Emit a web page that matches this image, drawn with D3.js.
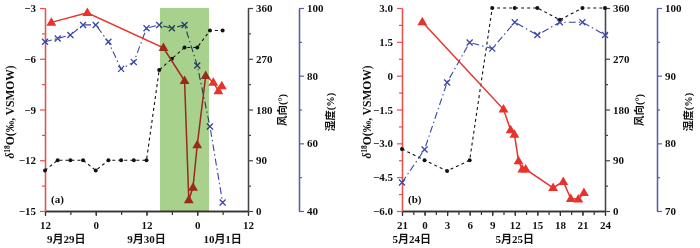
<!DOCTYPE html>
<html>
<head>
<meta charset="utf-8">
<script src="https://cdn.jsdelivr.net/npm/d3@7"></script>
<style>
  body { margin: 0; background: #fff; }
  svg { display: block; }
  text { font-family: "Liberation Serif", "Noto Sans CJK SC", serif; font-weight: bold; fill: #111; }
</style>
</head>
<body>
<script>
// ---- data: panel (a) Sep 29 12:00 .. Oct 1 12:00 (hours from start)
const aHours = [0, 3, 6, 9, 12, 15, 18, 21, 24, 27, 30, 33, 36, 39, 42];
const aWind = [72, 90, 90, 90, 72, 90, 90, 90, 90, 250, 270, 290, 290, 320, 320];
const aHumidity = [90, 91, 92, 95, 95, 90, 82, 84, 94, 95, 94, 95, 83, 65, 42.5];
const aIsoHours = [1.5, 10, 28, 33, 34, 35, 36, 38, 39.8, 41, 41.8];
const aIso = [-3.85, -3.28, -5.35, -7.3, -14.35, -13.6, -11.1, -7.0, -7.4, -7.9, -7.6];
const aShade = [27.2, 38.8];
const aXTicks = [0, 12, 24, 36, 48];
const aXLabels = ['12', '0', '12', '0', '12'];
const aDates = [{ h: 5, label: '9月29日' }, { h: 24, label: '9月30日' }, { h: 42, label: '10月1日' }];
const aIsoTicks = [-15, -12, -9, -6, -3];
const aHumTicks = [40, 60, 80, 100];

// ---- data: panel (b) May 24 21:00 .. May 25 24:00
const bHours = [0, 3, 6, 9, 12, 15, 18, 21, 24, 27];
const bWind = [110, 90, 71, 90, 360, 360, 360, 339, 360, 360];
const bHumidity = [74.2, 79.1, 89, 94.9, 94, 97.9, 96, 97.9, 97.9, 96];
const bIsoHours = [2.7, 13.5, 14.45, 14.95, 15.5, 16.0, 16.45, 20.1, 21.45, 22.45, 23.45, 24.2];
const bIso = [2.38, -1.49, -2.41, -2.6, -3.78, -4.15, -4.15, -4.97, -4.7, -5.45, -5.48, -5.19];
const bXTicks = [0, 3, 6, 9, 12, 15, 18, 21, 24, 27];
const bXLabels = ['21', '0', '3', '6', '9', '12', '15', '18', '21', '24'];
const bDates = [{ h: 1.3, label: '5月24日' }, { h: 15, label: '5月25日' }];
const bIsoTicks = [-6, -4.5, -3, -1.5, 0, 1.5, 3];
const bHumTicks = [70, 80, 90, 100];

const windTicks = [0, 90, 180, 270, 360];

const RED = '#e8332c';
const RED_AXIS = '#e4504a';
const BLUE = '#3a46a8';
const HUM_AXIS = '#5a5ea4';
const GREY = '#444';

const svg = d3.select('body').append('svg').attr('width', 700).attr('height', 248);

const fmtMinus = s => s.replace('-', '\u2212');

function styleAxis(g, color) {
  g.select('.domain').attr('stroke', color).attr('stroke-width', 1.3);
  g.selectAll('.tick line').attr('stroke', color).attr('stroke-width', 1.2);
  g.selectAll('.tick text').style('font-size', '11px').attr('fill', '#111');
}

function drawPanel(p) {
  const x = d3.scaleLinear().domain(p.xDomain).range([p.left, p.right]);
  const yIso = d3.scaleLinear().domain(p.isoDomain).range([211, 8]);
  const yWind = d3.scaleLinear().domain([0, 360]).range([211, 8]);
  const yHum = d3.scaleLinear().domain(p.humDomain).range([211, 8]);
  const g = svg.append('g');

  // bottom axis (minor then major)
  g.append('g').attr('transform', 'translate(0,211)')
    .call(d3.axisBottom(x).tickValues(d3.range(p.xDomain[0], p.xDomain[1] + 0.01, p.xMinor)).tickSize(4).tickSizeOuter(0).tickFormat(''))
    .call(a => styleAxis(a, '#333'));
  g.append('g').attr('transform', 'translate(0,211)')
    .call(d3.axisBottom(x).tickValues(p.xTicks).tickSize(5).tickSizeOuter(0).tickPadding(5)
      .tickFormat((d, i) => p.xLabels[i]))
    .call(a => styleAxis(a, '#333'));

  g.selectAll('.date').data(p.dates).enter().append('text')
    .attr('x', d => x(d.h)).attr('y', 243)
    .attr('text-anchor', 'middle').style('font-size', '11px')
    .text(d => d.label);

  // left isotope axis
  g.append('g').attr('transform', `translate(${p.left},0)`)
    .call(d3.axisLeft(yIso).tickValues(p.isoMinor).tickSize(3).tickSizeOuter(0).tickFormat(''))
    .call(a => styleAxis(a, RED_AXIS));
  g.append('g').attr('transform', `translate(${p.left},0)`)
    .call(d3.axisLeft(yIso).tickValues(p.isoTicks).tickSize(5).tickSizeOuter(0).tickPadding(4)
      .tickFormat(d => fmtMinus(p.isoFmt(d))))
    .call(a => styleAxis(a, RED_AXIS));

  const t = g.append('text')
    .attr('transform', `translate(${p.left - 31},112) rotate(-90)`)
    .attr('text-anchor', 'middle').style('font-size', '11.5px');
  t.append('tspan').style('font-style', 'italic').text('δ');
  t.append('tspan').attr('dy', -4).style('font-size', '7.5px').text('18');
  t.append('tspan').attr('dy', 4).text('O(‰, VSMOW)');

  // wind axis
  g.append('g').attr('transform', `translate(${p.right},0)`)
    .call(d3.axisRight(yWind).tickValues([45, 135, 225, 315]).tickSize(3).tickSizeOuter(0).tickFormat(''))
    .call(a => styleAxis(a, GREY));
  g.append('g').attr('transform', `translate(${p.right},0)`)
    .call(d3.axisRight(yWind).tickValues(windTicks).tickSize(5).tickSizeOuter(0).tickPadding(3))
    .call(a => styleAxis(a, GREY));
  g.append('text')
    .attr('transform', `translate(${p.right + 38},110) rotate(-90)`)
    .attr('text-anchor', 'middle').style('font-size', '10.5px').text('风向(°)');

  // humidity axis
  g.append('g').attr('transform', `translate(${p.humX},0)`)
    .call(d3.axisRight(yHum).tickValues(p.humMinor).tickSize(3).tickSizeOuter(0).tickFormat(''))
    .call(a => styleAxis(a, HUM_AXIS));
  g.append('g').attr('transform', `translate(${p.humX},0)`)
    .call(d3.axisRight(yHum).tickValues(p.humTicks).tickSize(5).tickSizeOuter(0).tickPadding(3))
    .call(a => styleAxis(a, HUM_AXIS));
  g.append('text')
    .attr('transform', `translate(${p.humX + 35},112) rotate(-90)`)
    .attr('text-anchor', 'middle').style('font-size', '10.5px').text('湿度(%)');

  // wind series
  const windPts = p.hours.map((h, i) => [x(h), yWind(p.wind[i])]);
  g.append('path').attr('d', d3.line()(windPts))
    .attr('fill', 'none').attr('stroke', '#111').attr('stroke-width', 1.1).attr('stroke-dasharray', '3,3');
  g.selectAll('.wdot').data(windPts).enter().append('circle')
    .attr('cx', d => d[0]).attr('cy', d => d[1]).attr('r', 2).attr('fill', '#111');

  // humidity series
  const humPts = p.hours.map((h, i) => [x(h), yHum(p.hum[i])]);
  g.append('path').attr('d', d3.line()(humPts))
    .attr('fill', 'none').attr('stroke', BLUE).attr('stroke-width', 1.1).attr('stroke-dasharray', '7,3,1.5,3');
  g.selectAll('.hx').data(humPts).enter().append('path')
    .attr('d', d => `M${d[0] - 3},${d[1] - 3}L${d[0] + 3},${d[1] + 3}M${d[0] - 3},${d[1] + 3}L${d[0] + 3},${d[1] - 3}`)
    .attr('stroke', BLUE).attr('stroke-width', 1.3);

  // isotope series
  const isoPts = p.isoHours.map((h, i) => [x(h), yIso(p.iso[i])]);
  g.append('path').attr('d', d3.line()(isoPts))
    .attr('fill', 'none').attr('stroke', RED).attr('stroke-width', 1.5);
  g.selectAll('.tri').data(isoPts).enter().append('path')
    .attr('d', d3.symbol(d3.symbolTriangle, 42))
    .attr('transform', d => `translate(${d[0]},${d[1] + 0.5})`)
    .attr('fill', RED);

  if (p.shade) {
    g.append('rect')
      .attr('x', x(p.shade[0])).attr('y', 8)
      .attr('width', x(p.shade[1]) - x(p.shade[0])).attr('height', 203)
      .attr('fill', '#a9d18e').style('mix-blend-mode', 'multiply');
  }

  g.append('text').attr('x', p.left + 6).attr('y', 203).style('font-size', '11px').text(p.tag);
}

drawPanel({
  left: 45, right: 248, humX: 299,
  xDomain: [0, 48], xMinor: 6, xTicks: aXTicks, xLabels: aXLabels, dates: aDates,
  isoDomain: [-15, -3], isoTicks: aIsoTicks, isoMinor: [-13.5, -10.5, -7.5, -4.5], isoFmt: d3.format('d'),
  humDomain: [40, 100], humTicks: aHumTicks, humMinor: [50, 70, 90],
  hours: aHours, wind: aWind, hum: aHumidity, isoHours: aIsoHours, iso: aIso,
  shade: aShade, tag: '(a)'
});

drawPanel({
  left: 402, right: 605, humX: 657,
  xDomain: [0, 27], xMinor: 1.5, xTicks: bXTicks, xLabels: bXLabels, dates: bDates,
  isoDomain: [-6, 3], isoTicks: bIsoTicks, isoMinor: d3.range(-5.25, 3, 1.5), isoFmt: d => d === 0 ? '0' : d3.format('.1f')(d),
  humDomain: [70, 100], humTicks: bHumTicks, humMinor: [75, 85, 95],
  hours: bHours, wind: bWind, hum: bHumidity, isoHours: bIsoHours, iso: bIso,
  shade: null, tag: '(b)'
});
</script>
</body>
</html>
